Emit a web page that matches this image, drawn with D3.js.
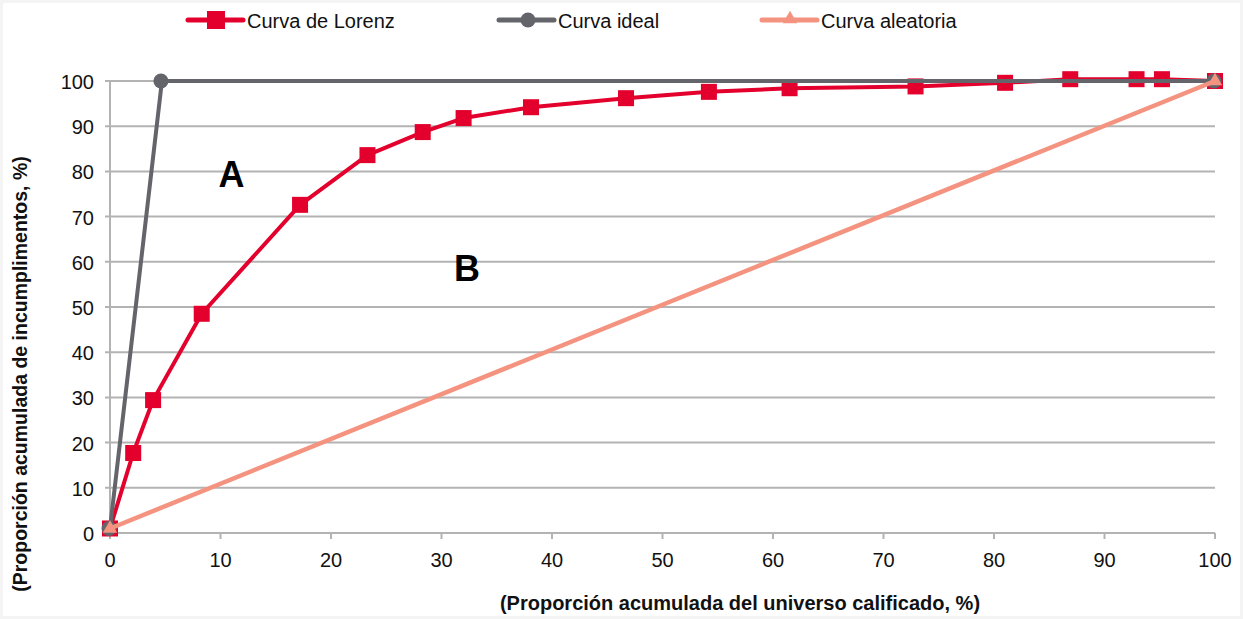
<!DOCTYPE html>
<html>
<head>
<meta charset="utf-8">
<script src="https://cdn.jsdelivr.net/npm/d3@7"></script>
<style>
  html, body { margin: 0; padding: 0; background: #f4f4f4; }
  svg { display: block; }
</style>
</head>
<body>
<div id="chart"></div>
<script>
var width = 1243;
var height = 619;

// data (x = % universo calificado, y = % incumplimientos)
var lorenzX = [0, 2.1, 3.9, 8.3, 17.2, 23.3, 28.3, 32.0, 38.1, 46.7, 54.2, 61.5, 72.9, 81.0, 86.9, 92.9, 95.2, 100];
var lorenzY = [1, 17.7, 29.4, 48.5, 72.6, 83.6, 88.7, 91.8, 94.2, 96.2, 97.6, 98.4, 98.8, 99.6, 100.4, 100.4, 100.4, 100];
var idealX = [0, 4.7, 100];
var idealY = [1, 100, 100];
var randomX = [0, 100];
var randomY = [1, 100];
var ticks = [0, 10, 20, 30, 40, 50, 60, 70, 80, 90, 100];
var seriesNames = ["Curva de Lorenz", "Curva ideal", "Curva aleatoria"];

var red = "#e3002d", grey = "#64646b", salmon = "#f4937f", gridCol = "#b3b3b3";
var font = "'Liberation Sans', Arial, sans-serif";

var svg = d3.select("#chart")
    .append("svg")
    .attr("width", width)
    .attr("height", height);

svg.append("rect")
    .attr("x", 3).attr("y", 3)
    .attr("width", width - 6).attr("height", height - 6)
    .attr("fill", "white");

var x = d3.scaleLinear().domain([0, 100]).range([110, 1215]);
var y = d3.scaleLinear().domain([0, 100]).range([533, 81]);

//------------- grid + axes -------------
svg.append("g")
    .selectAll("line")
    .data(ticks)
    .join("line")
    .attr("x1", x(0) - 5).attr("x2", x(100))
    .attr("y1", d => y(d)).attr("y2", d => y(d))
    .attr("stroke", gridCol)
    .attr("stroke-width", 2);

svg.append("line")
    .attr("x1", x(0)).attr("x2", x(0))
    .attr("y1", y(0)).attr("y2", y(100))
    .attr("stroke", gridCol).attr("stroke-width", 2);

svg.append("g")
    .selectAll("line")
    .data(ticks)
    .join("line")
    .attr("x1", d => x(d)).attr("x2", d => x(d))
    .attr("y1", y(0)).attr("y2", y(0) + 6)
    .attr("stroke", gridCol).attr("stroke-width", 2);

svg.append("g")
    .selectAll("text")
    .data(ticks)
    .join("text")
    .attr("x", 94)
    .attr("y", d => y(d) + 8)
    .attr("text-anchor", "end")
    .style("font-family", font)
    .style("font-size", "20px")
    .style("fill", "#111")
    .text(d => d);

svg.append("g")
    .selectAll("text")
    .data(ticks)
    .join("text")
    .attr("x", d => x(d))
    .attr("y", y(0) + 34)
    .attr("text-anchor", "middle")
    .style("font-family", font)
    .style("font-size", "20px")
    .style("fill", "#111")
    .text(d => d);

svg.append("text")
    .attr("x", 740).attr("y", 610)
    .attr("text-anchor", "middle")
    .style("font-family", font)
    .style("font-weight", "700")
    .style("font-size", "20px")
    .style("fill", "#111")
    .text("(Proporción acumulada del universo calificado, %)");

svg.append("text")
    .attr("transform", "translate(27, 374) rotate(-90)")
    .attr("text-anchor", "middle")
    .style("font-family", font)
    .style("font-weight", "700")
    .style("font-size", "19.5px")
    .style("fill", "#111")
    .text("(Proporción acumulada de incumplimentos, %)");

//------------- series -------------
var line = d3.line().x(d => x(d[0])).y(d => y(d[1]));
var lorenz = d3.zip(lorenzX, lorenzY);
var ideal = d3.zip(idealX, idealY);
var random = d3.zip(randomX, randomY);

svg.append("path").datum(lorenz)
    .attr("d", line).attr("fill", "none")
    .attr("stroke", red).attr("stroke-width", 4).attr("stroke-linejoin", "round");
svg.append("g").selectAll("rect")
    .data(lorenz).join("rect")
    .attr("x", d => x(d[0]) - 8).attr("y", d => y(d[1]) - 8)
    .attr("width", 16).attr("height", 16)
    .attr("fill", red);

svg.append("path").datum(ideal)
    .attr("d", line).attr("fill", "none")
    .attr("stroke", grey).attr("stroke-width", 4).attr("stroke-linejoin", "round");
svg.append("g").selectAll("circle")
    .data(ideal).join("circle")
    .attr("cx", d => x(d[0]) - 1).attr("cy", d => y(d[1]))
    .attr("r", 7.5)
    .attr("fill", grey);

svg.append("path").datum(random)
    .attr("d", line).attr("fill", "none")
    .attr("stroke", salmon).attr("stroke-width", 4.5);
var tri = d3.symbol().type(d3.symbolTriangle).size(90);
svg.append("g").selectAll("path")
    .data(random).join("path")
    .attr("d", tri)
    .attr("transform", d => "translate(" + x(d[0]) + "," + y(d[1]) + ")")
    .attr("fill", salmon);

//------------- labels A / B -------------
svg.append("text")
    .attr("x", x(11.0)).attr("y", y(76.5))
    .attr("text-anchor", "middle")
    .style("font-family", font).style("font-weight", "700")
    .style("font-size", "36px").style("fill", "#000")
    .text("A");
svg.append("text")
    .attr("x", x(32.3)).attr("y", y(55.8))
    .attr("text-anchor", "middle")
    .style("font-family", font).style("font-weight", "700")
    .style("font-size", "36px").style("fill", "#000")
    .text("B");

//------------- legend -------------
var legendX = [188, 499, 762];
var legendCol = [red, grey, salmon];
var lg = svg.append("g");
seriesNames.forEach(function (name, i) {
    var lx = legendX[i];
    lg.append("line")
        .attr("x1", lx).attr("x2", lx + 55)
        .attr("y1", 20).attr("y2", 20)
        .attr("stroke", legendCol[i]).attr("stroke-width", 5)
        .attr("stroke-linecap", "round");
    if (i === 0) {
        lg.append("rect").attr("x", lx + 19).attr("y", 11)
            .attr("width", 18).attr("height", 18).attr("fill", red);
    } else if (i === 1) {
        lg.append("circle").attr("cx", lx + 29).attr("cy", 20)
            .attr("r", 7.5).attr("fill", grey);
    } else {
        lg.append("path").attr("d", tri)
            .attr("transform", "translate(" + (lx + 28) + ",19)")
            .attr("fill", salmon);
    }
    lg.append("text")
        .attr("x", lx + 59).attr("y", 28)
        .style("font-family", font)
        .style("font-size", "20px")
        .style("fill", "#111")
        .text(name);
});
</script>
</body>
</html>
